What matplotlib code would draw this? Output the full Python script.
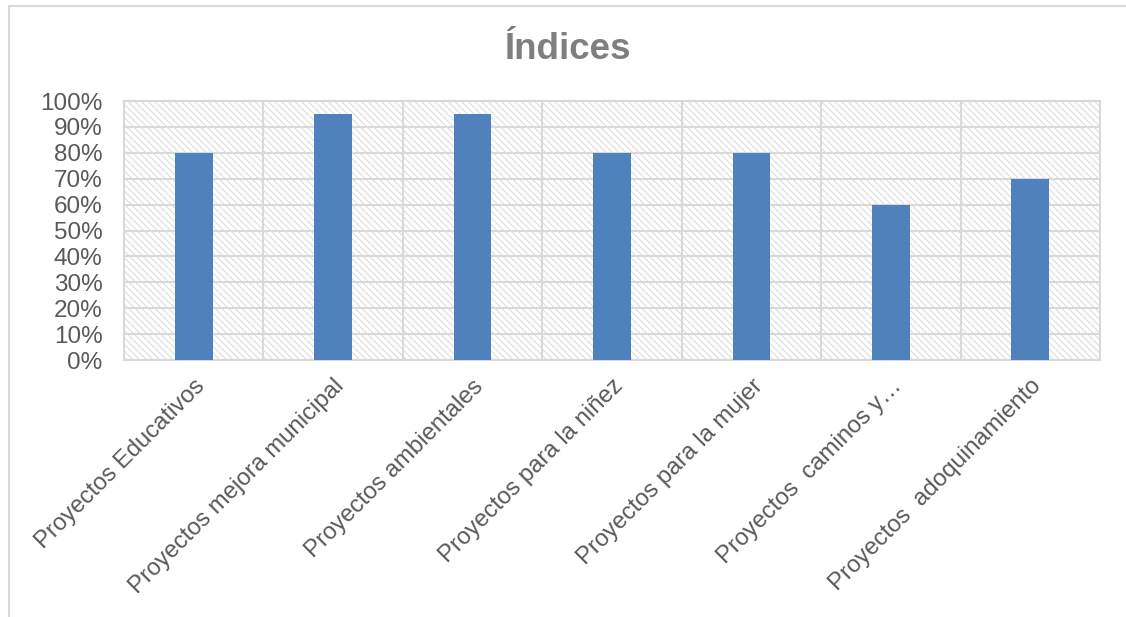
import matplotlib
matplotlib.use("Agg")
from matplotlib import pyplot as plt
from matplotlib.lines import Line2D
import numpy as np

plt.rcParams['font.family'] = ['Liberation Sans', 'DejaVu Sans']
plt.rcParams['hatch.color'] = '#d9d9d9'
plt.rcParams['hatch.linewidth'] = 0.7

# data
categorias = ["Proyectos Educativos", "Proyectos mejora municipal",
              "Proyectos ambientales", "Proyectos para la niñez",
              "Proyectos para la mujer", "Proyectos  caminos y…",
              "Proyectos  adoquinamiento"]
indices = [0.80, 0.95, 0.95, 0.80, 0.80, 0.60, 0.70]
ticks_y = [0, 0.1, 0.2, 0.3, 0.4, 0.5, 0.6, 0.7, 0.8, 0.9, 1.0]

grid_col = '#d9d9d9'
text_col = '#595959'

fig = plt.figure(figsize=(11.26, 6.17), dpi=100)
ax = fig.add_axes([0.1101, 0.4165, 0.8668, 0.4198])

# hatched plot background
ax.add_patch(plt.Rectangle((0, 0), 1, 1, transform=ax.transAxes,
                           facecolor='white', edgecolor=grid_col,
                           hatch='\\\\\\\\\\', linewidth=0, zorder=0))

x = np.arange(len(categorias))
ax.bar(x, indices, width=0.27, color='#4f81bd', zorder=3)

ax.set_xlim(-0.5, len(categorias) - 0.5)
ax.set_ylim(0, 1.0)
ax.set_yticks(ticks_y)
ax.set_yticklabels(["%d%%" % round(t * 100) for t in ticks_y],
                   fontsize=17.5, color=text_col)

# gridlines: horizontal at ticks, vertical between categories
for t in ticks_y:
    ax.axhline(t, color=grid_col, linewidth=1.5, zorder=1)
for b in np.arange(0.5, len(categorias) - 0.5, 1):
    ax.axvline(b, color=grid_col, linewidth=1.5, zorder=1)

ax.set_xticks(x)
ax.set_xticklabels(categorias, rotation=45, ha='right', rotation_mode='anchor',
                   fontsize=17.2, color=text_col)
ax.tick_params(axis='y', length=0, pad=15.5)
ax.tick_params(axis='x', length=0, pad=11)
for s in ax.spines.values():
    s.set_color(grid_col)
    s.set_linewidth(1.5)

fig.text(0.504, 0.920, "Índices", ha='center', va='center',
         fontsize=26.5, fontweight='bold', color='#7f7f7f')

# chart frame (top and left edges visible in the reference)
fig.add_artist(Line2D([9 / 1126, 1], [1 - 6 / 617, 1 - 6 / 617],
                      transform=fig.transFigure, color=grid_col, linewidth=1.5))
fig.add_artist(Line2D([9 / 1126, 9 / 1126], [0, 1 - 6 / 617],
                      transform=fig.transFigure, color=grid_col, linewidth=1.5))

fig.savefig("out.png", dpi=100)
